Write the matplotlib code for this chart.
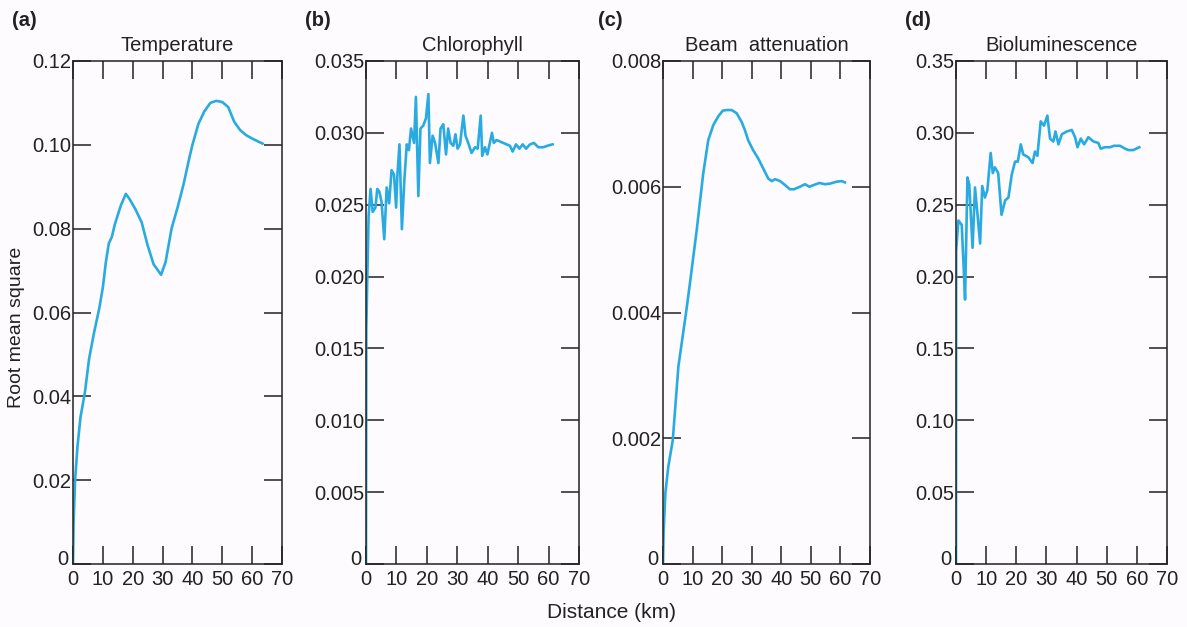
import numpy as np
import matplotlib
matplotlib.use("Agg")
import matplotlib.pyplot as plt
from matplotlib.transforms import ScaledTranslation

plt.rcParams['font.family'] = ['Liberation Sans', 'DejaVu Sans']

# (a) Temperature
temp_x = [0, 0.2, 0.7, 1.5, 2.5, 4, 5.4, 7, 8.8, 10, 11, 12, 13, 14, 16, 17.7, 19, 21,
          23, 25, 27, 29.5, 31, 33, 35, 37, 39, 40, 42, 44, 46, 48, 50, 52, 54, 56,
          58, 60, 62, 63.5]
temp_y = [0, 0.01, 0.02, 0.028, 0.035, 0.041, 0.049, 0.055, 0.061, 0.066, 0.072, 0.0765,
          0.078, 0.081, 0.0855, 0.0883, 0.087, 0.0845, 0.0815, 0.076, 0.0715, 0.069,
          0.072, 0.08, 0.085, 0.0905, 0.097, 0.1, 0.105, 0.108, 0.110, 0.1105, 0.1102,
          0.109, 0.1055, 0.1035, 0.1023, 0.1015, 0.1008, 0.1003]

# (b) Chlorophyll
chl_x = [0, 0.1, 0.43, 0.86, 1.5, 2.2, 3.1, 3.7, 4.4, 5.1, 6.0, 6.8, 7.6, 8.4, 9.2, 9.9,
         10.3, 11.0, 11.8, 12.6, 13.4, 14.1, 14.8, 15.8, 16.4, 17.2, 17.9, 18.8, 19.7,
         20.5, 21.0, 21.9, 22.7, 23.8, 24.5, 25.4, 26.3, 27.0, 27.8, 28.7, 29.4, 30.1,
         30.9, 32.0, 32.7, 33.6, 34.7, 35.8, 36.7, 37.7, 38.2, 39.1, 39.9, 40.7, 41.4,
         42.0, 42.9, 44.0, 45.1, 46.2, 47.3, 48.2, 49.3, 50.4, 51.5, 52.6, 53.9, 55.2,
         56.6, 58.3, 59.6, 61.3]
chl_y = [0, 0.0163, 0.0200, 0.0242, 0.0261, 0.0245, 0.0248, 0.0261, 0.0259, 0.0252,
         0.0226, 0.0262, 0.0251, 0.0274, 0.0271, 0.0248, 0.0270, 0.0292, 0.0233, 0.0267,
         0.0292, 0.0288, 0.0303, 0.0293, 0.0325, 0.0256, 0.0303, 0.0305, 0.0310, 0.0327,
         0.0279, 0.0298, 0.0293, 0.0279, 0.0303, 0.0306, 0.0285, 0.0303, 0.0293, 0.0291,
         0.0299, 0.0289, 0.0292, 0.0312, 0.0298, 0.0293, 0.0286, 0.0290, 0.0289, 0.0312,
         0.0284, 0.0290, 0.0285, 0.0293, 0.0300, 0.0293, 0.0295, 0.0294, 0.0293, 0.0292,
         0.0291, 0.0287, 0.0292, 0.0289, 0.0292, 0.0289, 0.0292, 0.0293, 0.0290, 0.0290,
         0.0291, 0.0292]

# (c) Beam attenuation
beam_x = [0, 0.2, 0.8, 1.8, 3.3, 5.2, 7.8, 9.1, 11.4, 13.6, 15.3, 17.0, 18.7, 20.2,
          21.5, 23.2, 24.9, 26.6, 27.7, 28.8, 30.5, 32.2, 33.9, 35.6, 36.8, 37.9, 39.6,
          41.2, 42.9, 44.3, 46.3, 48.0, 49.5, 51.1, 52.9, 54.8, 56.5, 58.7, 60.4, 61.5]
beam_y = [0, 0.00049, 0.00113, 0.00155, 0.00197, 0.00314, 0.0040, 0.00446, 0.00531,
          0.00621, 0.00674, 0.00698, 0.00712, 0.00721, 0.00722, 0.00722, 0.00717,
          0.00703, 0.00690, 0.00674, 0.00658, 0.00645, 0.00629, 0.00613, 0.00609,
          0.00612, 0.00609, 0.00603, 0.00596, 0.00596, 0.00600, 0.00604, 0.00600,
          0.00603, 0.00606, 0.00604, 0.00605, 0.00608, 0.00609, 0.00607]

# (d) Bioluminescence
bio_x = [0, 0.05, 0.8, 1.9, 2.4, 3.0, 3.8, 4.4, 5.5, 6.3, 7.1, 8.0, 8.7, 9.6, 10.4, 11.5,
         12.2, 12.9, 14.0, 15.1, 16.3, 17.4, 18.5, 19.6, 20.5, 21.5, 22.3, 24.0, 25.4,
         26.2, 27.0, 28.1, 29.2, 30.3, 31.2, 32.3, 33.0, 34.0, 35.1, 36.8, 38.4, 39.5,
         40.3, 41.4, 42.5, 43.9, 45.6, 47.2, 48.0, 49.4, 51.1, 52.4, 54.4, 56.1, 57.2,
         58.8, 60.8]
bio_y = [0, 0.218, 0.239, 0.236, 0.213, 0.184, 0.269, 0.264, 0.220, 0.262, 0.244, 0.223,
         0.263, 0.255, 0.260, 0.286, 0.272, 0.276, 0.272, 0.243, 0.253, 0.255, 0.271,
         0.280, 0.280, 0.292, 0.285, 0.283, 0.279, 0.287, 0.284, 0.308, 0.305, 0.312,
         0.296, 0.294, 0.301, 0.292, 0.299, 0.301, 0.302, 0.297, 0.290, 0.296, 0.292,
         0.297, 0.294, 0.293, 0.289, 0.290, 0.290, 0.291, 0.291, 0.289, 0.288, 0.288,
         0.290]

x_ticks = [0, 10, 20, 30, 40, 50, 60, 70]

panels = [
    ("(a)", "Temperature", temp_x, temp_y, [0, 0.02, 0.04, 0.06, 0.08, 0.10, 0.12],
     ["0", "0.02", "0.04", "0.06", "0.08", "0.10", "0.12"]),
    ("(b)", "Chlorophyll", chl_x, chl_y,
     [0, 0.005, 0.010, 0.015, 0.020, 0.025, 0.030, 0.035],
     ["0", "0.005", "0.010", "0.015", "0.020", "0.025", "0.030", "0.035"]),
    ("(c)", "Beam  attenuation", beam_x, beam_y, [0, 0.002, 0.004, 0.006, 0.008],
     ["0", "0.002", "0.004", "0.006", "0.008"]),
    ("(d)", "Bioluminescence", bio_x, bio_y,
     [0, 0.05, 0.10, 0.15, 0.20, 0.25, 0.30, 0.35],
     ["0", "0.05", "0.10", "0.15", "0.20", "0.25", "0.30", "0.35"]),
]

W, H = 1187, 627
boxes = [(73, 282), (366, 579), (663, 870), (956, 1167)]
letter_x = [12, 305, 598, 905]
top, bottom = 61, 564
bg = '#fdfbfd'
line_col = '#29abe2'
ink = '#222222'

fig = plt.figure(figsize=(W / 100, H / 100), dpi=100, facecolor=bg)

for (letter, title, xs, ys, yt, ytl), (l, r), lx in zip(panels, boxes, letter_x):
    ax = fig.add_axes([l / W, (H - bottom) / H, (r - l) / W, (bottom - top) / H])
    ax.set_facecolor(bg)
    ax.plot(xs, ys, color=line_col, lw=1.9, solid_joinstyle='round')
    ax.set_xlim(0, 70)
    ax.set_ylim(yt[0], yt[-1])
    ax.set_xticks(x_ticks)
    ax.set_yticks(yt)
    ax.set_yticklabels(ytl)
    ax.tick_params(direction='in', length=13, width=1.1, color=ink,
                   top=True, right=True, labelsize=14.5, labelcolor=ink)
    ax.tick_params(axis='y', pad=1)
    ax.tick_params(axis='x', pad=4)
    # lift the y "0" label a little so it clears the x "0"
    zero = ax.get_yticklabels()[0]
    zero.set_transform(zero.get_transform() +
                       ScaledTranslation(-2 / 72, 5 / 72, fig.dpi_scale_trans))
    for s in ax.spines.values():
        s.set_linewidth(1.1)
        s.set_color(ink)
    ax.set_title(title, fontsize=14.5, color=ink, pad=7)
    fig.text(lx / W, 1 - 21 / H, letter, fontsize=14.5, fontweight='bold',
             color=ink, va='center', ha='left')

fig.text(17 / W, 1 - 327 / H, "Root mean square", rotation=90, fontsize=14,
         color=ink, ha='center', va='center')
fig.text(612 / W, 1 - 613 / H, "Distance (km)", fontsize=15, color=ink,
         ha='center', va='center')

fig.savefig("out.png", dpi=100, facecolor=bg)
